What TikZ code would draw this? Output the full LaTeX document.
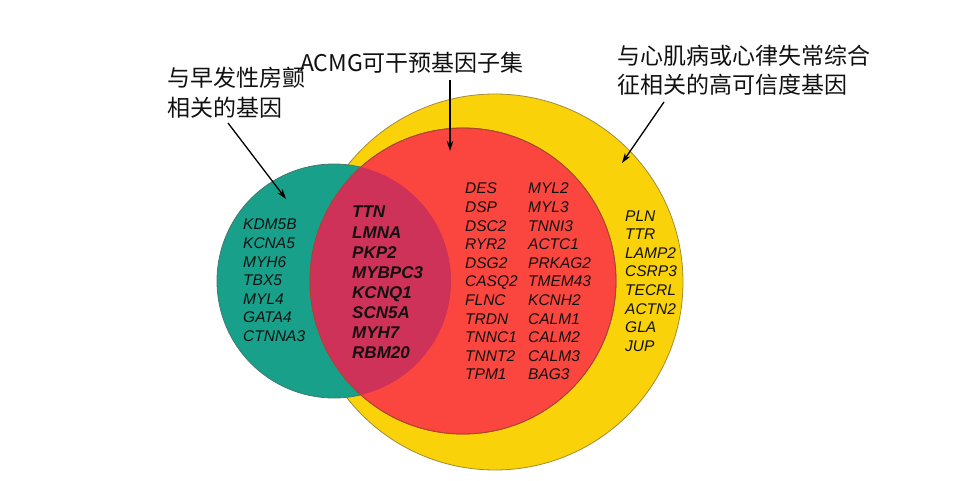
\documentclass[tikz,border=0pt]{standalone}
\usepackage{fontspec}
\setmainfont{Liberation Sans}
\newfontfamily\cjkfont{Noto Sans CJK SC}
\usetikzlibrary{arrows.meta}
\definecolor{setteal}{RGB}{24,160,138}
\definecolor{setred}{RGB}{250,70,62}
\definecolor{setyellow}{RGB}{250,210,10}
\definecolor{setmagenta}{RGB}{206,50,88}
\definecolor{tealedge}{RGB}{70,120,110}
\definecolor{rededge}{RGB}{170,70,50}
\definecolor{yellowedge}{RGB}{160,140,60}
\definecolor{ink}{RGB}{17,17,17}

\begin{document}
\begin{tikzpicture}[
      x=1pt,y=-1pt,
      >={Stealth[length=10pt,width=6.5pt]},
      every node/.style={inner sep=0pt,text=ink},
      setlabel/.style={font=\cjkfont\fontsize{23}{29.5}\selectfont,align=left},
      genes/.style={font=\itshape\fontsize{15.5}{18.6}\selectfont,align=left,anchor=west},
      coregenes/.style={font=\bfseries\itshape\fontsize{17}{20.1}\selectfont,align=left,anchor=west},
      yelset/.style={circle,draw=yellowedge,line width=0.8pt,fill=setyellow,minimum size=376pt},
      redset/.style={circle,draw=rededge,line width=0.8pt,fill=setred,minimum size=306pt},
      tealset/.style={circle,draw=tealedge,line width=0.8pt,fill=setteal,minimum size=234pt},
      pointer/.style={draw=black,line width=1.3pt,->}
    ]
    \useasboundingbox (0,0) rectangle (955,481);
    % the three gene sets
    \node[yelset] (cmset) at (495,282) {};
    \node[tealset] (afset) at (334,281) {};
    \node[redset] (acmgset) at (463,281) {};
    % overlap of early AF genes and ACMG genes
    \begin{scope}
      \clip (334,281) circle (117);
      \fill[setmagenta] (463,281) circle (153);
    \end{scope}
    \draw[rededge,line width=0.8pt] (463,281) circle (153);
    % set captions
    \node[setlabel,anchor=west] (aflabel) at (167,92.5) {与早发性房颤\\相关的基因};
    \node[setlabel] (acmglabel) at (412,63) {ACMG可干预基因子集};
    \node[setlabel,anchor=west] (cmlabel) at (617,70) {与心肌病或心律失常综合\\征相关的高可信度基因};
    % pointers from captions into the sets
    \coordinate (aftail) at (228,123);
    \coordinate (aftip) at (286,199);
    \coordinate (acmgtail) at (450,80);
    \coordinate (acmgtip) at (450,151);
    \coordinate (cmtail) at (664,102);
    \coordinate (cmtip) at (622,163);
    \draw[pointer] (aftail) -- (aftip);
    \draw[pointer] (acmgtail) -- (acmgtip);
    \draw[pointer] (cmtail) -- (cmtip);
    % gene lists
    \node[genes] (afgenes) at (243,280.5)
      {KDM5B\\KCNA5\\MYH6\\TBX5\\MYL4\\GATA4\\CTNNA3};
    \node[coregenes] (coregenes) at (352,282.5)
      {TTN\\LMNA\\PKP2\\MYBPC3\\KCNQ1\\SCN5A\\MYH7\\RBM20};
    \node[genes] (acmggenesa) at (465,281.5)
      {DES\\DSP\\DSC2\\RYR2\\DSG2\\CASQ2\\FLNC\\TRDN\\TNNC1\\TNNT2\\TPM1};
    \node[genes] (acmggenesb) at (528,281.5)
      {MYL2\\MYL3\\TNNI3\\ACTC1\\PRKAG2\\TMEM43\\KCNH2\\CALM1\\CALM2\\CALM3\\BAG3};
    \node[genes] (cmgenes) at (625,281)
      {PLN\\TTR\\LAMP2\\CSRP3\\TECRL\\ACTN2\\GLA\\JUP};
  \end{tikzpicture}
\end{document}
